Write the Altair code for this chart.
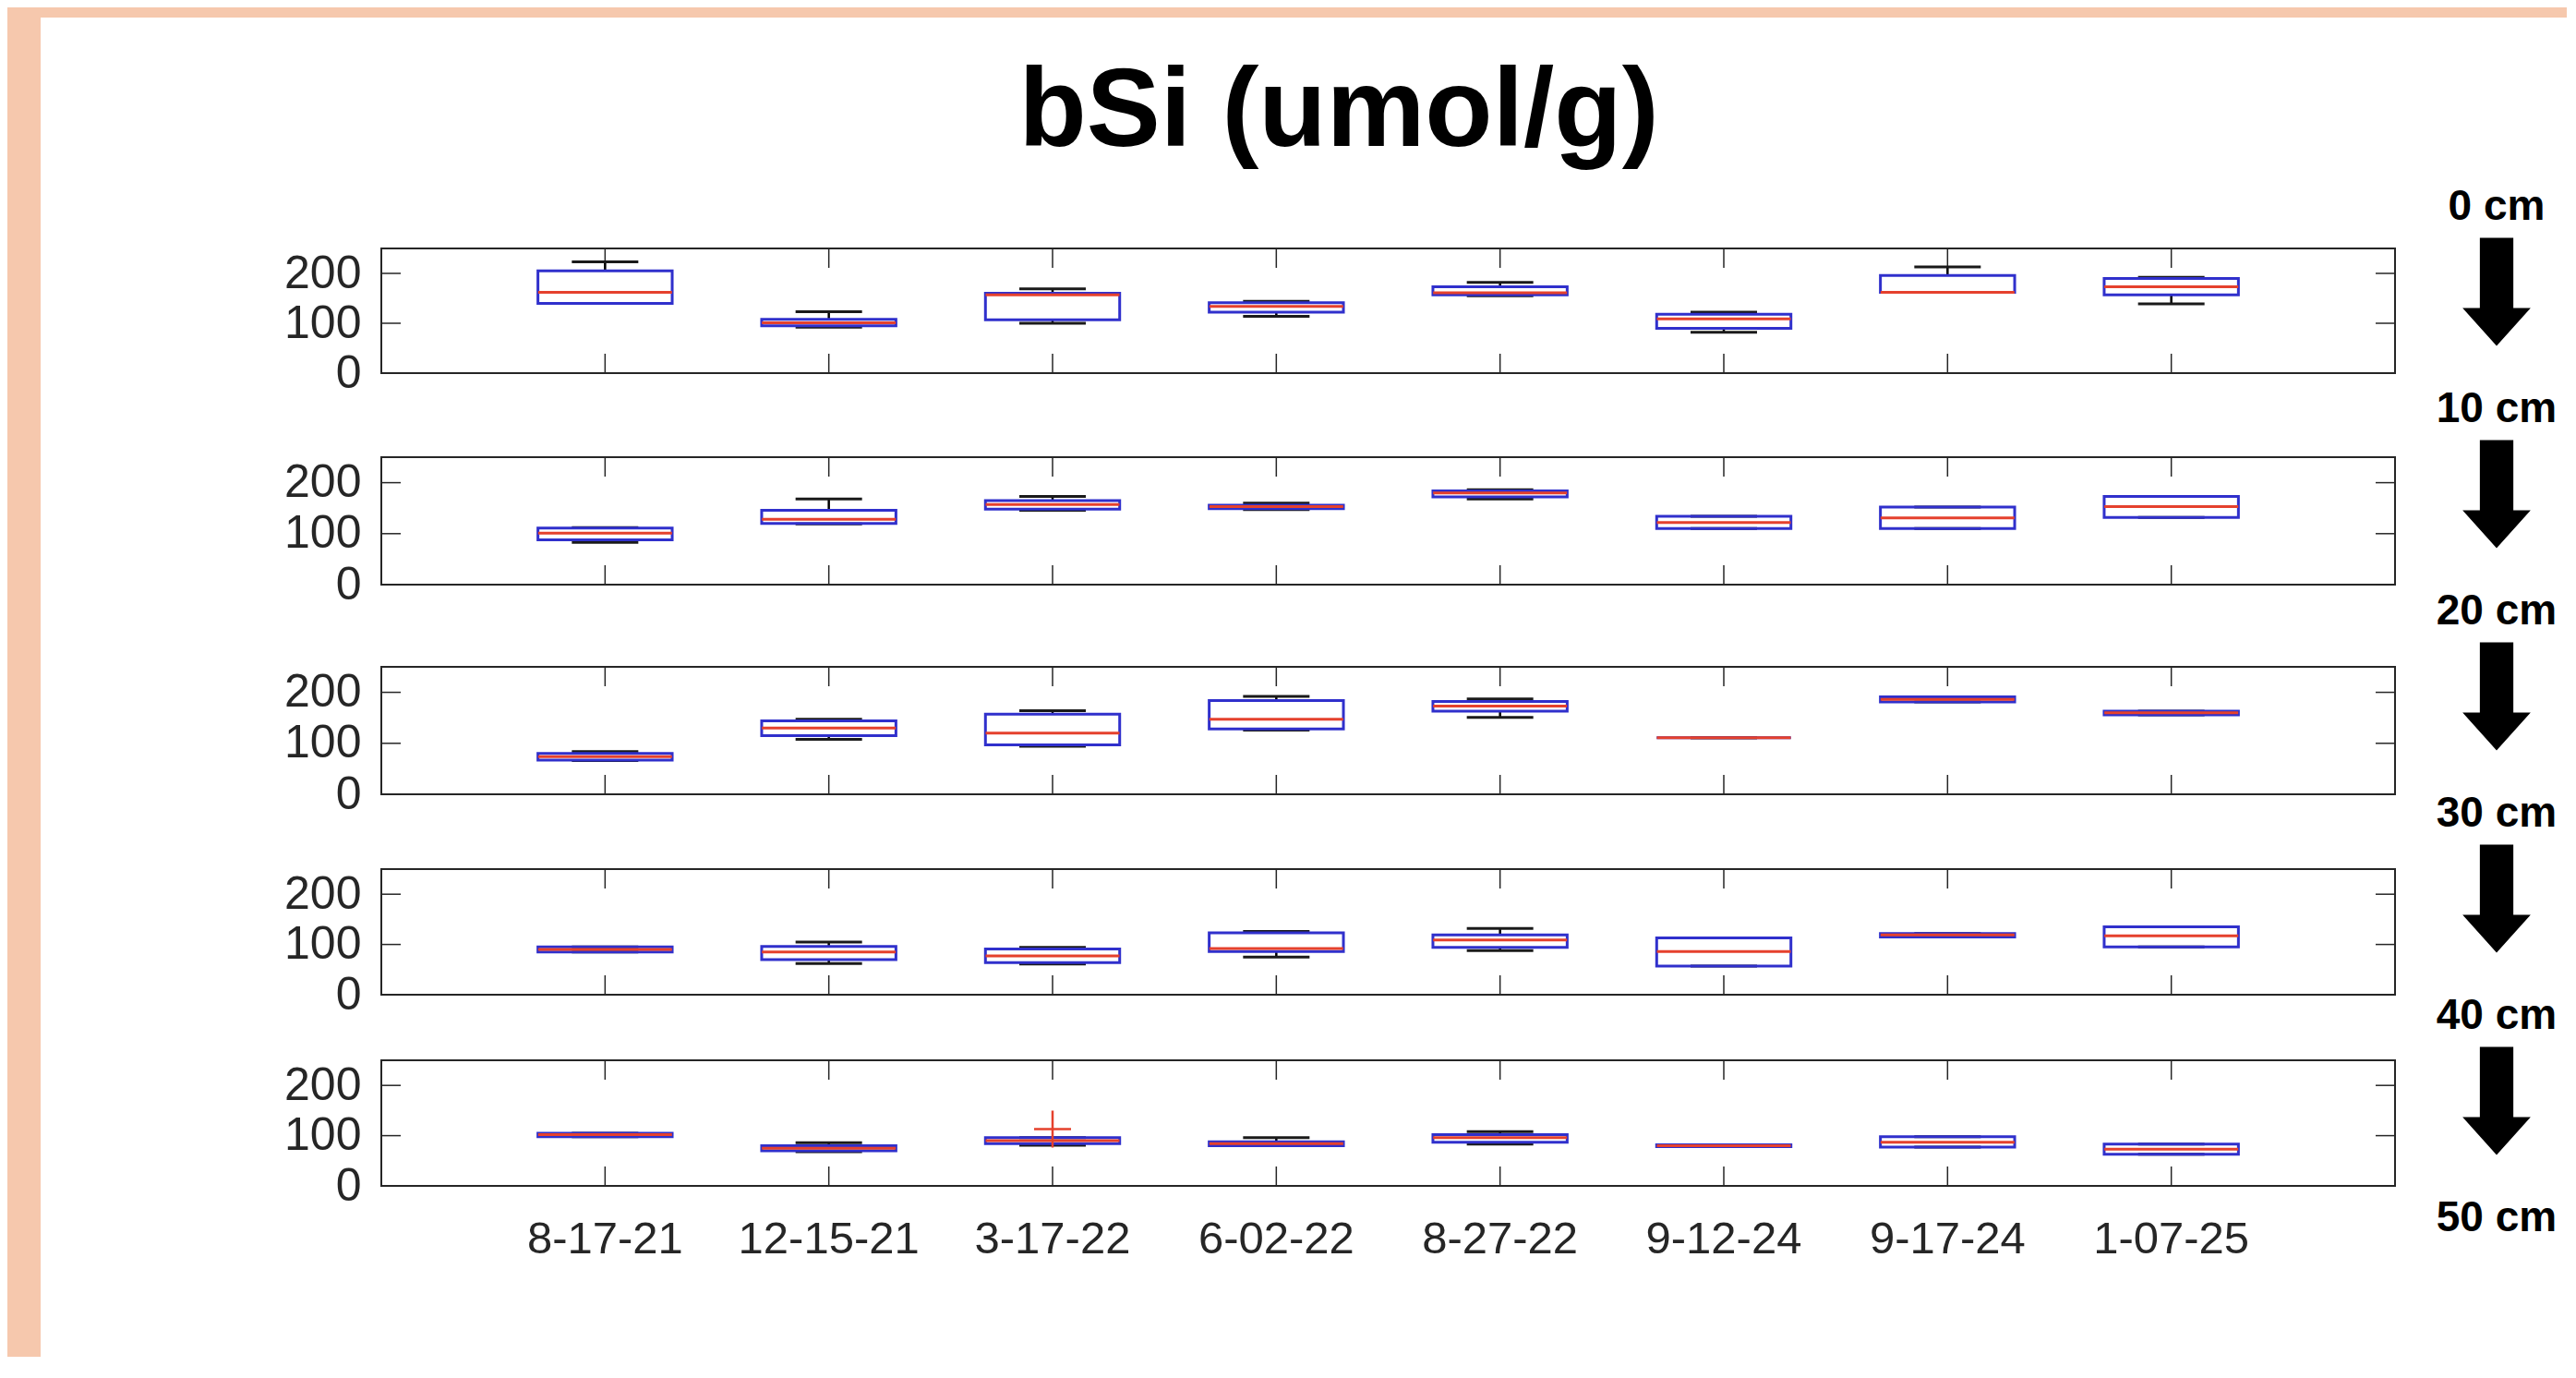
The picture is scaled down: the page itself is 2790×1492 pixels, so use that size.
import altair as alt
import pandas as pd

# ---------------- data ----------------
TITLE = "bSi (umol/g)"
dates = ["8-17-21", "12-15-21", "3-17-22", "6-02-22",
         "8-27-22", "9-12-24", "9-17-24", "1-07-25"]
depth_values = [0, 10, 20, 30, 40, 50]
depth_labels = ["0 cm", "10 cm", "20 cm", "30 cm", "40 cm", "50 cm"]
y_ticks = [0, 100, 200]
y_domain = [0, 250]

# 0-10 cm
p1_lo  = [140, 92, 100, 114, 155, 82, 162, 139]
p1_q1  = [140, 95, 107, 122, 157, 90, 162, 157]
p1_med = [162, 101, 157, 134, 161, 109, 162, 173]
p1_q3  = [205, 108, 160, 141, 173, 118, 196, 190]
p1_hi  = [223, 123, 169, 144, 182, 122, 213, 192]
# 10-20 cm
p2_lo  = [83, 119, 146, 147, 168, 110, 110, 132]
p2_q1  = [88, 120, 148, 149, 172, 110, 110, 132]
p2_med = [101, 128, 157, 153, 180, 122, 131, 153]
p2_q3  = [111, 146, 165, 156, 184, 134, 152, 173]
p2_hi  = [112, 168, 173, 160, 186, 134, 152, 173]
# 20-30 cm
p3_lo  = [66, 108, 94, 126, 151, 111, 181, 156]
p3_q1  = [67, 115, 97, 128, 163, 111, 181, 156]
p3_med = [74, 130, 120, 147, 173, 111, 186, 160]
p3_q3  = [80, 144, 157, 184, 182, 111, 191, 163]
p3_hi  = [84, 147, 164, 192, 187, 111, 191, 163]
# 30-40 cm
p4_lo  = [85, 62, 61, 75, 88, 57, 115, 95]
p4_q1  = [85, 70, 64, 86, 94, 57, 115, 95]
p4_med = [90, 85, 77, 92, 109, 86, 119, 117]
p4_q3  = [95, 96, 91, 123, 119, 113, 122, 135]
p4_hi  = [95, 105, 94, 126, 132, 113, 122, 135]
# 40-50 cm
p5_lo  = [98, 68, 81, 80, 83, 78, 77, 63]
p5_q1  = [98, 70, 84, 80, 87, 78, 77, 63]
p5_med = [102, 75, 90, 84, 96, 80, 87, 73]
p5_q3  = [105, 80, 96, 88, 102, 82, 98, 83]
p5_hi  = [105, 86, 96, 96, 108, 82, 98, 83]
p5_outlier_dates = ["3-17-22"]
p5_outlier_values = [113]

panels = [
    (p1_lo, p1_q1, p1_med, p1_q3, p1_hi),
    (p2_lo, p2_q1, p2_med, p2_q3, p2_hi),
    (p3_lo, p3_q1, p3_med, p3_q3, p3_hi),
    (p4_lo, p4_q1, p4_med, p4_q3, p4_hi),
    (p5_lo, p5_q1, p5_med, p5_q3, p5_hi),
]

# ---------------- layout / style ----------------
W = 2181
PLOT_H = [135, 138, 138, 136, 136]
VIEW_H = [226, 227, 219, 207, 136]
TICK = 21
FONT = "Liberation Sans"
INK = "#262626"
BLUE = "#3030CC"
RED = "#E5412D"
PEACH = "#F6C8AD"
ARROW = "M-0.31,-1L0.31,-1L0.31,0.3L0.63,0.3L0,1L-0.63,0.3L-0.31,0.3Z"


def make_panel(k, show_x):
    lo, q1, med, q3, hi = panels[k]
    h = PLOT_H[k]
    df = pd.DataFrame({"date": dates, "lo": lo, "q1": q1, "med": med, "q3": q3, "hi": hi})
    frame_df = pd.DataFrame({"ymin": [y_domain[0]], "ymax": [y_domain[1]]})
    tick_df = pd.DataFrame({"v": y_ticks})

    ys = alt.Scale(domain=y_domain, range=[h, 0], nice=False, zero=False)
    xs = alt.Scale(type="band", domain=dates, paddingInner=0.4, paddingOuter=0.7)
    yaxis = alt.Axis(title=None, values=y_ticks, labelFont=FONT, labelFontSize=50,
                     labelColor=INK, labelPadding=22, ticks=False, tickSize=0,
                     domain=False, grid=False)
    if show_x:
        xaxis = alt.Axis(title=None, labelFont=FONT, labelFontSize=49, labelColor=INK,
                         labelPadding=33, ticks=False, tickSize=0, labelLimit=0,
                         domain=False, grid=False, labelAngle=0)
        X = alt.X("date:N", scale=xs, axis=xaxis)
    else:
        X = alt.X("date:N", scale=xs, axis=None)

    def Y(f):
        return alt.Y(f, scale=ys, axis=yaxis)

    frame = alt.Chart(frame_df).mark_rect(fillOpacity=0, stroke=INK, strokeWidth=2).encode(
        x=alt.value(0), x2=alt.value(W), y=Y("ymin:Q"), y2="ymax:Q")
    ytl = alt.Chart(tick_df).mark_rule(color=INK, strokeWidth=1.5).encode(
        y=Y("v:Q"), x=alt.value(0), x2=alt.value(TICK))
    ytr = alt.Chart(tick_df).mark_rule(color=INK, strokeWidth=1.5).encode(
        y=Y("v:Q"), x=alt.value(W - TICK), x2=alt.value(W))
    xtb = alt.Chart(df).mark_rule(color=INK, strokeWidth=1.5).encode(
        x=X, y=alt.value(h - TICK), y2=alt.value(h))
    xtt = alt.Chart(df).mark_rule(color=INK, strokeWidth=1.5).encode(
        x=X, y=alt.value(0), y2=alt.value(TICK))
    base = alt.Chart(df)
    wl = base.mark_rule(color="black", strokeWidth=2.5).encode(x=X, y=Y("lo:Q"), y2="q1:Q")
    wu = base.mark_rule(color="black", strokeWidth=2.5).encode(x=X, y=Y("q3:Q"), y2="hi:Q")
    cl = base.mark_tick(color="#1A1A1A", thickness=3, size=72, opacity=1).encode(x=X, y=Y("lo:Q"))
    cu = base.mark_tick(color="#1A1A1A", thickness=3, size=72, opacity=1).encode(x=X, y=Y("hi:Q"))
    box = base.mark_bar(fillOpacity=0, stroke=BLUE, strokeWidth=3).encode(
        x=X, y=Y("q1:Q"), y2="q3:Q")
    md = base.mark_tick(color=RED, thickness=3, size=145, opacity=1).encode(x=X, y=Y("med:Q"))

    layers = [frame, ytl, ytr, xtb, xtt, wl, wu, cl, cu, box, md]

    if k == 4:
        out_df = pd.DataFrame({"date": p5_outlier_dates, "v": p5_outlier_values})
        layers.append(alt.Chart(out_df).mark_point(
            shape="M-1,0L1,0M0,-1L0,1", filled=False, stroke=RED, strokeWidth=2.5,
            size=1600, opacity=1).encode(x=X, y=Y("v:Q")))

    if k == 0:
        one = pd.DataFrame({"t": [TITLE]})
        strip_left = alt.Chart(one).mark_rect(color=PEACH).encode(
            x=alt.value(-405), x2=alt.value(-369), y=alt.value(-261), y2=alt.value(1200))
        strip_top = alt.Chart(one).mark_rect(color=PEACH).encode(
            x=alt.value(-405), x2=alt.value(2367), y=alt.value(-261), y2=alt.value(-250))
        title = alt.Chart(one).mark_text(font=FONT, fontSize=120, fontWeight="bold",
                                         color="black", align="center",
                                         baseline="alphabetic").encode(
            text="t:N", x=alt.value(1037), y=alt.value(-111))
        inner = alt.layer(strip_left, strip_top, title, *layers)

        ann_ys = alt.Scale(domain=[0, 50], range=[-45, 1050], nice=False, zero=False)
        lab_df = pd.DataFrame({"d": depth_values, "t": depth_labels})
        arr_df = pd.DataFrame({"d": [v + 4.2 for v in depth_values[:-1]]})
        labels = alt.Chart(lab_df).mark_text(font=FONT, fontSize=46, fontWeight="bold",
                                             color="black", align="center",
                                             baseline="middle").encode(
            y=alt.Y("d:Q", scale=ann_ys, axis=None), x=alt.value(2291), text="t:N")
        arrows = alt.Chart(arr_df).mark_point(shape=ARROW, filled=True, size=13689,
                                              color="black", opacity=1).encode(
            y=alt.Y("d:Q", scale=ann_ys, axis=None), x=alt.value(2291))
        return alt.layer(inner, labels, arrows).resolve_scale(y="independent").properties(
            width=W, height=VIEW_H[k])

    return alt.layer(*layers).properties(width=W, height=VIEW_H[k])


chart = alt.vconcat(
    *[make_panel(k, k == 4) for k in range(5)],
    spacing=0, bounds="flush", padding=0, background="white"
).configure_view(strokeOpacity=0)

chart.save("out.html", embed_options={"renderer": "svg", "actions": False})
